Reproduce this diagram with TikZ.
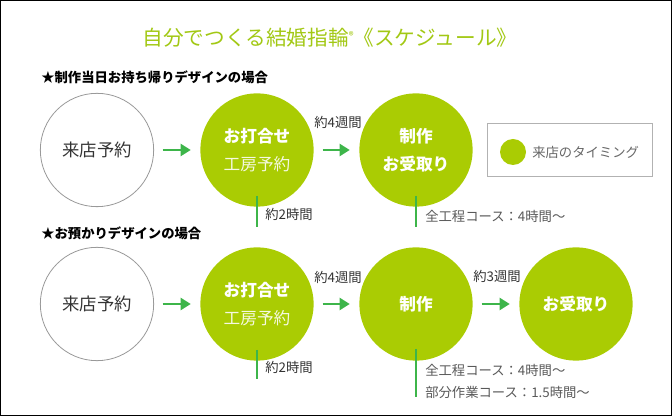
\documentclass[tikz,border=0pt]{standalone}
\usepackage{fontspec}
\setmainfont{Noto Sans CJK JP}
\usetikzlibrary{arrows.meta,calc}
\definecolor{lime}{HTML}{AACC03}
\definecolor{titleg}{HTML}{A2C814}
\definecolor{arrg}{HTML}{3DB54A}
\definecolor{txtg}{HTML}{333333}
\begin{document}
\begin{tikzpicture}[x=0.75pt,y=-0.75pt,
  whitecirc/.style={circle,draw=black!40,line width=0.6pt,fill=white,minimum size=85pt,inner sep=0pt,
    font=\fontsize{13}{16}\selectfont,text=txtg},
  limecirc/.style={circle,fill=lime,minimum size=85pt,inner sep=0pt,text=white,align=center,
    font=\fontsize{12.5}{21}\selectfont},
  flow/.style={arrg,line width=1.5pt,-{Triangle[length=7.5pt,width=9pt]},shorten <=6.5pt,shorten >=7pt},
  vline/.style={arrg,line width=1.5pt},
  lbl/.style={text=txtg,font=\fontsize{10}{12}\selectfont,inner sep=0pt},
  sublbl/.style={text=black!65,font=\fontsize{10}{12}\selectfont,inner sep=0pt,anchor=west},
  heading/.style={font=\fontsize{10}{12}\selectfont\bfseries,text=black,anchor=west,inner sep=0pt},
  ]
\useasboundingbox (0,0) rectangle (672,416);
\draw[black,line width=0.75pt] (0.5,0.5) rectangle (671.5,415.5);

% title
\node[text=titleg,font=\fontsize{15.5}{18}\selectfont,inner sep=0pt] (title) at (330,38)
  {自分でつくる結婚指輪\raisebox{0.55ex}{\fontsize{7.5}{8}\selectfont ®}《スケジュール》};

% row 1
\node[heading] (h1) at (41,77) {★制作当日お持ち帰りデザインの場合};
\node[whitecirc] (a1) at (97,150) {来店予約};
\node[limecirc] (a2) at (257,150) {{\bfseries お打合せ}\\{\color{white!88!lime}工房予約}};
\node[limecirc] (a3) at (416,150) {\bfseries 制作\\\bfseries お受取り};
\draw[flow] (a1) -- (a2);
\draw[flow] (a2) -- (a3);
\node[lbl] (w1) at (338,122) {約4週間};
\draw[vline] ($(a2.south)+(0,-11)$) coordinate (v1s) -- ++(0,31) coordinate (v1e);
\node[lbl,anchor=west] (t1) at (265,214) {約2時間};
\draw[vline] ($(a3.south)+(0,-11)$) coordinate (v2s) -- ++(0,31) coordinate (v2e);
\node[sublbl] (t2) at (425,216) {全工程コース：4時間～};

% legend
\node[draw=black!30,line width=0.6pt,minimum width=123.75pt,minimum height=39.75pt,inner sep=0pt] (leg) at (569.5,149.5) {};
\node[circle,fill=lime,minimum size=19.5pt,inner sep=0pt] (legdot) at (513,152) {};
\node[sublbl,text=black!60] (legt) at (532,152) {来店のタイミング};

% row 2
\node[heading] (h2) at (41,233) {★お預かりデザインの場合};
\node[whitecirc] (b1) at (97,304) {来店予約};
\node[limecirc] (b2) at (257,304) {{\bfseries お打合せ}\\{\color{white!88!lime}工房予約}};
\node[limecirc,font=\fontsize{12.5}{21}\selectfont\bfseries] (b3) at (416,304) {制作};
\node[limecirc,font=\fontsize{12.5}{21}\selectfont\bfseries] (b4) at (576,304) {お受取り};
\draw[flow] (b1) -- (b2);
\draw[flow] (b2) -- (b3);
\draw[flow] (b3) -- (b4);
\node[lbl] (w2) at (338,277) {約4週間};
\node[lbl] (w3) at (497,276) {約3週間};
\draw[vline] ($(b2.south)+(0,-11)$) coordinate (v3s) -- ++(0,29) coordinate (v3e);
\node[lbl,anchor=west] (t3) at (265,367) {約2時間};
\draw[vline] ($(b3.south)+(0,-12)$) coordinate (v4s) -- ++(0,48) coordinate (v4e);
\node[sublbl] (t4) at (425,370) {全工程コース：4時間～};
\node[sublbl] (t5) at (425,392) {部分作業コース：1.5時間～};
\end{tikzpicture}
\end{document}
